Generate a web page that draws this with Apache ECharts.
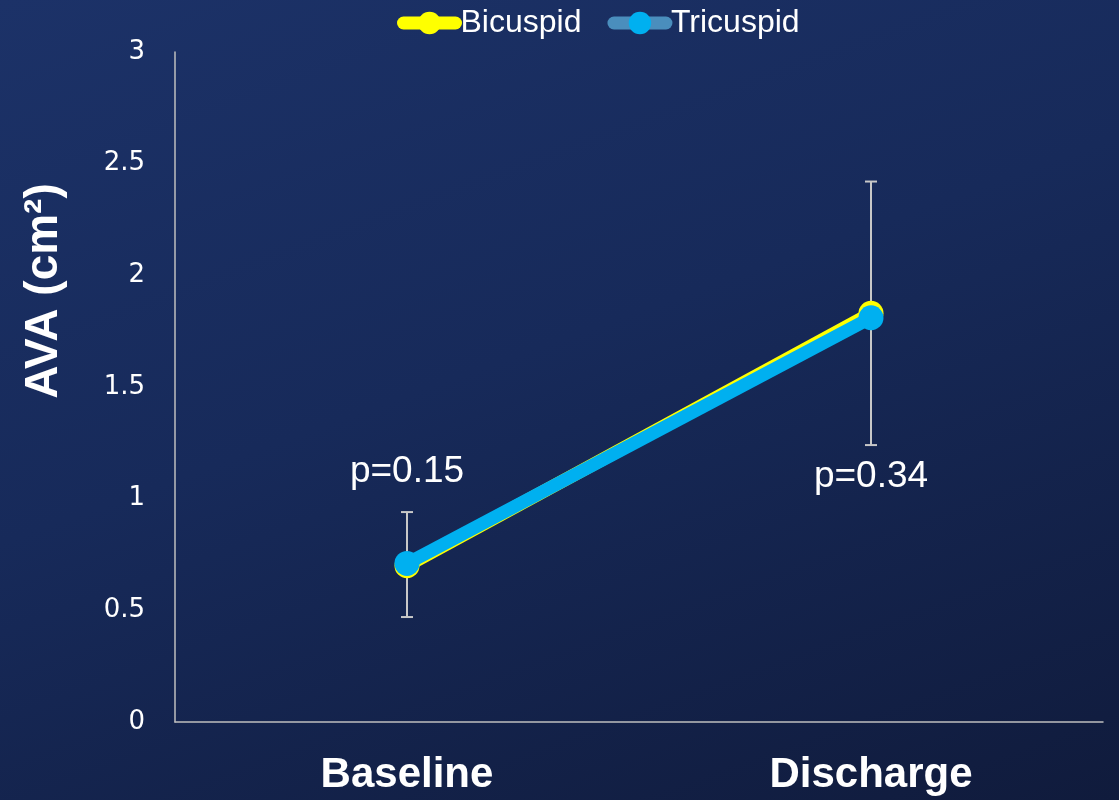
<!DOCTYPE html>
<html><head><meta charset="utf-8">
<script src="https://cdn.jsdelivr.net/npm/echarts@6/dist/echarts.min.js"></script>
<style>html,body{margin:0;padding:0;}#c{width:1119px;height:800px;background:linear-gradient(160deg,#1c3268 0%,#172a5a 45%,#101b3c 100%);}</style>
</head><body><div id="c"></div>
<script>
const categories = ['Baseline', 'Discharge'];
const bicuspid = [0.70, 1.83];
const tricuspid = [0.71, 1.81];
const errLow = [0.47, 1.24];
const errHigh = [0.94, 2.42];
const pLabels = ['p=0.15', 'p=0.34'];
const pLabelY = [1.12, 1.10];
const yTicks = [0, 0.5, 1, 1.5, 2, 2.5, 3];

const chart = echarts.init(document.getElementById('c'));
chart.setOption({
  backgroundColor: 'transparent',
  animation: false,
  grid: {left: 175, right: 16, top: 52, bottom: 78},
  legend: {
    top: 2, left: 392, itemWidth: 52, itemHeight: 28, itemGap: 26,
    textStyle: {color: '#ffffff', fontFamily: 'Liberation Sans', fontSize: 32, padding: [0,0,0,0]},
    data: [
      {name: 'Bicuspid', itemStyle: {color: '#ffff00'}, lineStyle: {color: '#ffff00', width: 13, cap: 'round'}},
      {name: 'Tricuspid', itemStyle: {color: '#00b0f0'}, lineStyle: {color: '#4a8ebd', width: 13, cap: 'round'}}
    ]
  },
  xAxis: {
    type: 'category', data: categories, boundaryGap: true,
    axisLine: {lineStyle: {color: '#bfbfbf', width: 1.5}},
    axisTick: {show: false},
    axisLabel: {color: '#ffffff', fontFamily: 'Liberation Sans', fontWeight: 'bold', fontSize: 42, margin: 32}
  },
  yAxis: {
    type: 'value', min: 0, max: 3, interval: 0.5,
    name: 'AVA (cm²)', nameLocation: 'middle', nameGap: 108,
    nameTextStyle: {color: '#ffffff', fontFamily: 'Liberation Sans', fontWeight: 'bold', fontSize: 46, padding: [0,0,0,192]},
    axisLine: {show: true, lineStyle: {color: '#bfbfbf', width: 1.5}},
    axisTick: {show: false},
    splitLine: {show: false},
    axisLabel: {color: '#ffffff', fontFamily: 'DejaVu Sans', fontSize: 26, margin: 30, padding: [8,0,0,0],
      formatter: v => yTicks.includes(v) ? String(v) : ''}
  },
  series: [
    {
      type: 'custom', name: 'err', silent: true, z: 1,
      data: categories.map((c, i) => [i, errLow[i], errHigh[i]]),
      renderItem: (params, api) => {
        const lo = api.coord([api.value(0), api.value(1)]);
        const hi = api.coord([api.value(0), api.value(2)]);
        const hw = 6;
        const st = {stroke: '#c8c8c8', lineWidth: 2};
        return {type: 'group', children: [
          {type: 'line', shape: {x1: lo[0], y1: lo[1], x2: hi[0], y2: hi[1]}, style: st},
          {type: 'line', shape: {x1: lo[0]-hw, y1: lo[1], x2: lo[0]+hw, y2: lo[1]}, style: st},
          {type: 'line', shape: {x1: hi[0]-hw, y1: hi[1], x2: hi[0]+hw, y2: hi[1]}, style: st}
        ]};
      }
    },
    {
      type: 'line', name: 'Bicuspid', data: bicuspid, z: 2,
      symbol: 'circle', symbolSize: 25,
      lineStyle: {color: '#ffff00', width: 13},
      itemStyle: {color: '#ffff00'}
    },
    {
      type: 'line', name: 'Tricuspid', data: tricuspid, z: 3,
      symbol: 'circle', symbolSize: 25,
      lineStyle: {color: '#00b0f0', width: 13},
      itemStyle: {color: '#00b0f0'}
    },
    {
      type: 'scatter', name: 'p', silent: true, symbolSize: 0, z: 4,
      itemStyle: {opacity: 1},
      data: categories.map((c, i) => ({value: [i, pLabelY[i]], label: {formatter: pLabels[i]}})),
      label: {show: true, position: 'inside', color: '#ffffff', fontFamily: 'Liberation Sans', fontSize: 37}
    }
  ]
});
</script></body></html>
